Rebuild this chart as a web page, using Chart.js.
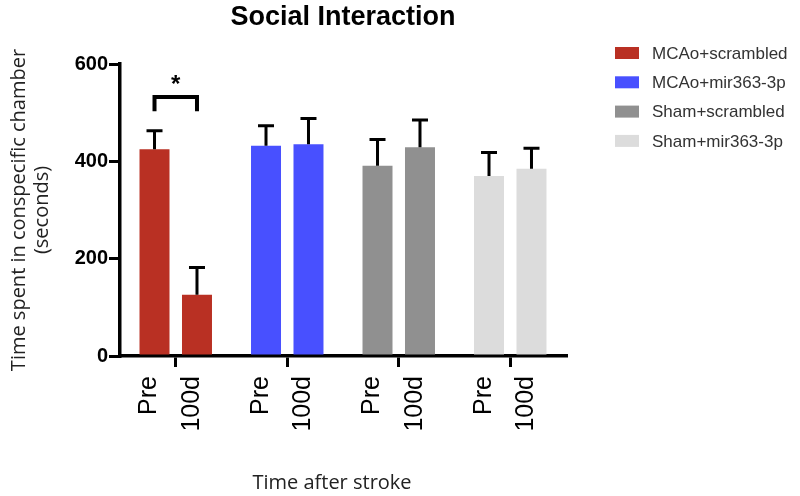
<!DOCTYPE html>
<html><head><meta charset="utf-8">
<script src="https://cdn.jsdelivr.net/npm/chart.js@4"></script>
<style>html,body{margin:0;padding:0;background:#fff;}</style>
</head><body>
<canvas id="c" width="800" height="496"></canvas>
<script>
const chartTitle = "Social Interaction";
const groups = ["MCAo+scrambled", "MCAo+mir363-3p", "Sham+scrambled", "Sham+mir363-3p"];
const timepoints = ["Pre", "100d"];
const preValues = [425, 432, 391, 370];
const preErrors = [38, 41, 54, 48];
const day100Values = [126, 435, 429, 385];
const day100Errors = [56, 53, 56, 42];
const yTicks = [0, 200, 400, 600];
const yTitle = ["Time spent in conspecific chamber", "(seconds)"];
const xTitle = "Time after stroke";
const significance = { group: 0, level: 532, legDrop: 29, label: "*" };
const groupColors = ["#b93023", "#4850ff", "#909090", "#dcdcdc"];

const HELV = "'Liberation Sans', Arial, Helvetica, sans-serif";
const OPEN = "'Open Sans', 'Liberation Sans', sans-serif";

const extrasPlugin = {
  id: 'extras',
  afterDatasetsDraw(chart) {
    const ctx = chart.ctx;
    const y = chart.scales.y;
    const area = chart.chartArea;
    ctx.save();
    // error bars
    ctx.strokeStyle = '#000';
    ctx.lineWidth = 3;
    ctx.lineCap = 'butt';
    chart.data.datasets.forEach((ds, di) => {
      const meta = chart.getDatasetMeta(di);
      meta.data.forEach((el, i) => {
        const top = y.getPixelForValue(ds.data[i] + ds.errors[i]);
        ctx.beginPath();
        ctx.moveTo(el.x, el.y);
        ctx.lineTo(el.x, top);
        ctx.moveTo(el.x - 8, top);
        ctx.lineTo(el.x + 8, top);
        ctx.stroke();
      });
    });
    // significance bracket
    const a = chart.getDatasetMeta(0).data[significance.group];
    const b = chart.getDatasetMeta(1).data[significance.group];
    const yb = y.getPixelForValue(significance.level);
    const yl = y.getPixelForValue(significance.level - significance.legDrop);
    ctx.lineWidth = 4;
    ctx.lineJoin = 'miter';
    ctx.beginPath();
    ctx.moveTo(a.x, yl);
    ctx.lineTo(a.x, yb);
    ctx.lineTo(b.x, yb);
    ctx.lineTo(b.x, yl);
    ctx.stroke();
    ctx.fillStyle = '#000';
    ctx.font = "bold 24px " + HELV;
    ctx.textAlign = 'center';
    ctx.textBaseline = 'middle';
    ctx.fillText(significance.label, (a.x + b.x) / 2, yb - 12);

    // per-bar x labels
    ctx.font = "25px " + HELV;
    ctx.fillStyle = '#000';
    chart.data.datasets.forEach((ds, di) => {
      const meta = chart.getDatasetMeta(di);
      meta.data.forEach((el) => {
        ctx.save();
        ctx.translate(el.x - 5, area.bottom + 20);
        ctx.rotate(-Math.PI / 2);
        ctx.textAlign = 'right';
        ctx.textBaseline = 'middle';
        ctx.fillText(timepoints[di], 0, 0);
        ctx.restore();
      });
    });

    // x title
    ctx.font = "20px " + OPEN;
    ctx.fillStyle = '#222';
    ctx.textAlign = 'center';
    ctx.textBaseline = 'middle';
    ctx.fillText(xTitle, 332, 483);

    // chart title
    ctx.font = "bold 27px " + HELV;
    ctx.fillStyle = '#000';
    ctx.fillText(chartTitle, (area.left + area.right) / 2, 18);

    // legend
    ctx.font = "17px " + HELV;
    ctx.textAlign = 'left';
    groups.forEach((g, i) => {
      const cy = 53 + i * 29.3;
      ctx.fillStyle = groupColors[i];
      ctx.fillRect(615, cy - 6, 24, 12);
      ctx.fillStyle = '#333';
      ctx.fillText(g, 652, cy + 1);
    });
    ctx.restore();
  }
};

new Chart(document.getElementById('c'), {
  type: 'bar',
  data: {
    labels: groups,
    datasets: [
      { label: timepoints[0], data: preValues, errors: preErrors, backgroundColor: groupColors },
      { label: timepoints[1], data: day100Values, errors: day100Errors, backgroundColor: groupColors }
    ]
  },
  options: {
    responsive: false,
    animation: false,
    devicePixelRatio: 1,
    categoryPercentage: 0.762,
    barPercentage: 0.706,
    layout: { padding: { top: 64, right: 234, left: 0, bottom: 0 } },
    plugins: { legend: { display: false }, title: { display: false }, tooltip: { enabled: false } },
    scales: {
      x: {
        afterFit(s) { s.height = 140; },
        grid: { display: true, offset: false, drawOnChartArea: false, drawTicks: true, tickLength: 11, lineWidth: 3, color: '#000' },
        border: { display: true, color: '#000', width: 3.5 },
        ticks: { display: false }
      },
      y: {
        min: 0, max: 600,
        afterFit(s) { s.width = 120; },
        afterBuildTicks(s) { s.ticks = yTicks.map(v => ({ value: v })); },
        grid: { display: true, drawOnChartArea: false, drawTicks: true, tickLength: 11, lineWidth: 3, color: '#000' },
        border: { display: true, color: '#000', width: 3.5 },
        ticks: { color: '#000', font: { family: HELV, size: 20, weight: 'bold' }, padding: 1 },
        title: { display: true, text: yTitle, color: '#222', font: { family: OPEN, size: 20, lineHeight: 1.15 }, padding: { top: 8, bottom: 0 } }
      }
    }
  },
  plugins: [extrasPlugin]
});
</script>
</body></html>
